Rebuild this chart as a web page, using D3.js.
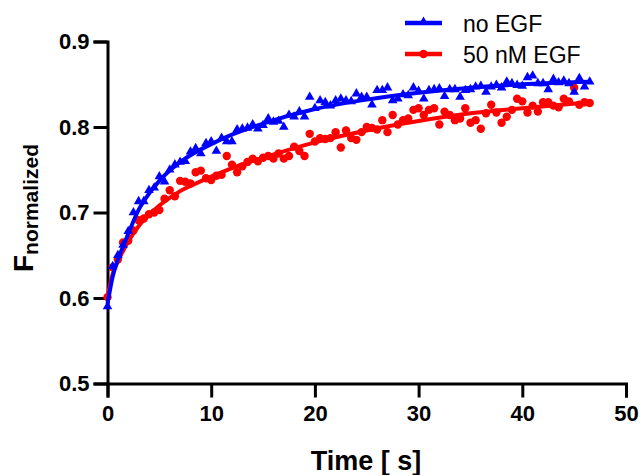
<!DOCTYPE html>
<html>
<head>
<meta charset="utf-8">
<script src="https://cdnjs.cloudflare.com/ajax/libs/d3/7.8.5/d3.min.js"></script>
<style>
  body { margin: 0; background: #fff; }
  svg { display: block; font-family: "Liberation Sans", Arial, sans-serif; }
</style>
</head>
<body>
<div id="chart"></div>
<script>
// sampling times, one point every 0.5 s
var times = d3.range(0, 47, 0.5);

var noEgf = [
  0.590, 0.637, 0.650, 0.662, 0.678, 0.700, 0.713, 0.713, 0.726, 0.729,
  0.742, 0.736, 0.750, 0.756, 0.759, 0.760, 0.771, 0.775, 0.769, 0.781,
  0.783, 0.772, 0.787, 0.783, 0.783, 0.797, 0.798, 0.799, 0.803, 0.798,
  0.802, 0.810, 0.806, 0.807, 0.800, 0.814, 0.812, 0.818, 0.812, 0.835,
  0.822, 0.831, 0.829, 0.825, 0.831, 0.833, 0.831, 0.830, 0.839, 0.835,
  0.835, 0.826, 0.843, 0.843, 0.846, 0.831, 0.833, 0.838, 0.837, 0.846,
  0.842, 0.833, 0.843, 0.844, 0.845, 0.836, 0.844, 0.844, 0.835, 0.843,
  0.844, 0.847, 0.848, 0.841, 0.847, 0.849, 0.846, 0.853, 0.851, 0.849,
  0.848, 0.858, 0.860, 0.851, 0.851, 0.844, 0.856, 0.852, 0.854, 0.851,
  0.841, 0.857, 0.847, 0.853
];

var egf50 = [
  0.601, 0.636, 0.645, 0.665, 0.667, 0.679, 0.691, 0.693, 0.698, 0.700,
  0.703, 0.716, 0.726, 0.719, 0.737, 0.736, 0.734, 0.747, 0.749, 0.740,
  0.738, 0.743, 0.744, 0.766, 0.756, 0.747, 0.754, 0.759, 0.763, 0.760,
  0.764, 0.766, 0.763, 0.769, 0.763, 0.766, 0.777, 0.772, 0.766, 0.792,
  0.783, 0.787, 0.786, 0.787, 0.794, 0.776, 0.796, 0.787, 0.785, 0.794,
  0.800, 0.799, 0.797, 0.808, 0.794, 0.814, 0.803, 0.808, 0.810, 0.820,
  0.822, 0.814, 0.820, 0.822, 0.803, 0.818, 0.814, 0.808, 0.810, 0.822,
  0.805, 0.808, 0.798, 0.816, 0.826, 0.817, 0.805, 0.812, 0.820, 0.833,
  0.830, 0.817, 0.825, 0.818, 0.829, 0.829, 0.825, 0.823, 0.833, 0.830,
  0.846, 0.826, 0.829, 0.828
];

// fitted curves
var fitTimes = [0, 0.5, 1, 1.5, 2, 3, 4, 5, 6, 7, 8, 10, 12, 15, 20, 25, 30, 35, 40, 46.5];
var fitNoEgf = [0.593, 0.625, 0.645, 0.660, 0.675, 0.703, 0.722, 0.737, 0.749, 0.759,
                0.767, 0.780, 0.791, 0.804, 0.821, 0.832, 0.840, 0.846, 0.850, 0.853];
var fitEgf50 = [0.602, 0.628, 0.643, 0.655, 0.666, 0.684, 0.697, 0.708, 0.717, 0.725,
                0.731, 0.742, 0.752, 0.764, 0.782, 0.796, 0.807, 0.816, 0.822, 0.829];

var xTicks = [0, 10, 20, 30, 40, 50];
var yTicks = [0.5, 0.6, 0.7, 0.8, 0.9];
var seriesNames = ["no EGF", "50 nM EGF"];

var w = 640, h = 475;
var blue = "#0000ff", red = "#ff0000";

var svg = d3.select("#chart").append("svg")
    .attr("width", w)
    .attr("height", h);

var x = d3.scaleLinear().domain([0, 50]).range([107.5, 626]);
var y = d3.scaleLinear().domain([0.5, 0.9]).range([383.5, 41.5]);

var xAxis = svg.append("g")
    .attr("transform", "translate(0," + y(0.5) + ")")
    .call(d3.axisBottom(x).tickValues(xTicks).tickSize(14).tickSizeOuter(14).tickPadding(8)
        .tickFormat(d3.format("d")));

var yAxis = svg.append("g")
    .attr("transform", "translate(" + x(0) + ",0)")
    .call(d3.axisLeft(y).tickValues(yTicks).tickSize(14).tickSizeOuter(14).tickPadding(4)
        .tickFormat(d3.format(".1f")));

[xAxis, yAxis].forEach(function(g) {
    g.selectAll("path, line").attr("stroke", "#000").attr("stroke-width", 3);
    g.selectAll("text")
        .attr("fill", "#000")
        .attr("font-size", "22px")
        .attr("font-weight", "bold")
        .attr("font-family", "Liberation Sans, Arial, sans-serif");
});
xAxis.selectAll("text").attr("dy", "0.71em");

// axis titles
svg.append("text")
    .attr("x", 366)
    .attr("y", 470)
    .attr("text-anchor", "middle")
    .attr("font-size", "27px")
    .attr("font-weight", "bold")
    .text("Time [ s]");

var yTitle = svg.append("text")
    .attr("transform", "translate(33,208) rotate(-90)")
    .attr("text-anchor", "middle")
    .attr("font-weight", "bold");
yTitle.append("tspan").attr("font-size", "28px").text("F");
yTitle.append("tspan").attr("font-size", "21px").attr("dy", 5).text("normalized");

var line = d3.line()
    .x(function(d) { return x(d[0]); })
    .y(function(d) { return y(d[1]); })
    .curve(d3.curveMonotoneX);

var tri = d3.symbol().type(d3.symbolTriangle).size(40);

// red series first, blue drawn over it
svg.append("g").selectAll("circle")
    .data(d3.zip(times, egf50))
    .enter().append("circle")
    .attr("cx", function(d) { return x(d[0]); })
    .attr("cy", function(d) { return y(d[1]); })
    .attr("r", 4.2)
    .attr("fill", red);

svg.append("path")
    .datum(d3.zip(fitTimes, fitEgf50))
    .attr("d", line)
    .attr("fill", "none")
    .attr("stroke", red)
    .attr("stroke-width", 4);

svg.append("g").selectAll("path")
    .data(d3.zip(times, noEgf))
    .enter().append("path")
    .attr("d", tri)
    .attr("transform", function(d) { return "translate(" + x(d[0]) + "," + y(d[1]) + ")"; })
    .attr("fill", blue);

svg.append("path")
    .datum(d3.zip(fitTimes, fitNoEgf))
    .attr("d", line)
    .attr("fill", "none")
    .attr("stroke", blue)
    .attr("stroke-width", 4);

// legend
var legend = svg.append("g");
var legendY = [23, 54];
var legendColors = [blue, red];
seriesNames.forEach(function(name, i) {
    var g = legend.append("g").attr("transform", "translate(0," + legendY[i] + ")");
    g.append("line")
        .attr("x1", 405).attr("x2", 442)
        .attr("stroke", legendColors[i])
        .attr("stroke-width", 4.5);
    if (i === 0) {
        g.append("path").attr("d", tri).attr("transform", "translate(423.5,-1)").attr("fill", blue);
    } else {
        g.append("circle").attr("cx", 423.5).attr("r", 4.2).attr("fill", red);
    }
    g.append("text")
        .attr("x", 463)
        .attr("y", 9)
        .attr("font-size", "23px")
        .attr("fill", "#000")
        .text(name);
});
</script>
</body>
</html>
